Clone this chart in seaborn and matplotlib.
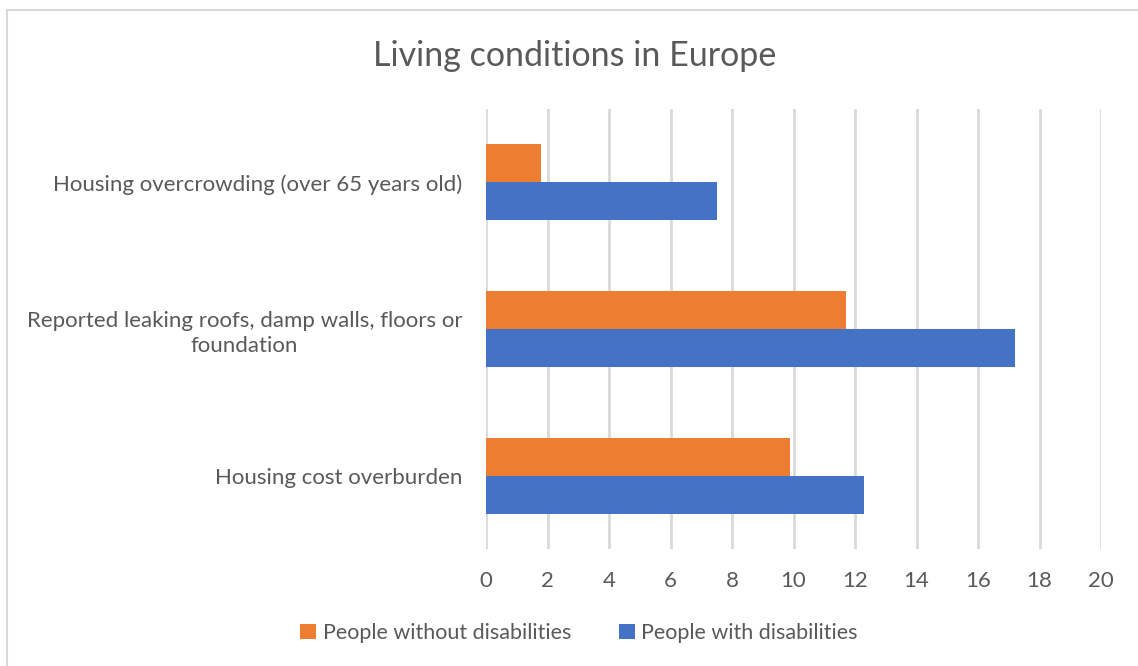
import matplotlib
matplotlib.use("Agg")
import matplotlib.pyplot as plt
import seaborn as sns
import pandas as pd
from matplotlib.patches import Rectangle

categories = [
    "Housing overcrowding (over 65 years old)",
    "Reported leaking roofs, damp walls, floors or\nfoundation",
    "Housing cost overburden",
]
series_names = ["People without disabilities", "People with disabilities"]
without_disab = [1.8, 11.7, 9.9]
with_disab = [7.5, 17.2, 12.3]
xticks = [0, 2, 4, 6, 8, 10, 12, 14, 16, 18, 20]

df = pd.DataFrame({
    "category": categories * 2,
    "group": [series_names[0]] * 3 + [series_names[1]] * 3,
    "value": without_disab + with_disab,
})

sns.set_theme(style="white")
plt.rcParams["font.family"] = ["Lato", "DejaVu Sans"]

W, H = 1138, 666
fig = plt.figure(figsize=(W / 100, H / 100), dpi=100)
ax = fig.add_axes([486 / W, 1 - 549 / H, (1101 - 486) / W, (549 - 109) / H])

palette = {series_names[0]: "#ED7D31", series_names[1]: "#4472C4"}
sns.barplot(data=df, y="category", x="value", hue="group", order=categories,
            hue_order=series_names, palette=palette, orient="h",
            width=0.52, ax=ax, saturation=1, legend=True, linewidth=0)

ax.set_xlim(0, 20)
ax.set_xticks(xticks)
ax.set_xticklabels([str(t) for t in xticks])
ax.set_xlabel("")
ax.set_ylabel("")
for s in ax.spines.values():
    s.set_visible(False)
ax.grid(axis="x", color="#D9D9D9", linewidth=2)
ax.set_axisbelow(True)
ax.tick_params(axis="x", length=0, pad=16, labelsize=16, labelcolor="#595959")
ax.tick_params(axis="y", length=0, pad=17, labelsize=16, labelcolor="#595959")
for lbl in ax.get_yticklabels():
    lbl.set_multialignment("center")
    lbl.set_linespacing(1.3)

fig.text(575 / W, 1 - 56 / H, "Living conditions in Europe", ha="center", va="center",
         fontsize=24.5, color="#595959")

leg = ax.legend(loc="center", bbox_to_anchor=(579 / W, 1 - 633 / H),
                bbox_transform=fig.transFigure, ncol=2, frameon=False,
                fontsize=15.5, handlelength=0.75, handleheight=0.75,
                handletextpad=0.3, columnspacing=2.2)
for t in leg.get_texts():
    t.set_color("#595959")

fig.patches.append(Rectangle((7 / W, -0.05), 1.2, 1 - 10 / H + 0.05,
                             transform=fig.transFigure, fill=False,
                             edgecolor="#D9D9D9", linewidth=1.5))

fig.savefig("out.png", dpi=100, facecolor="white")
